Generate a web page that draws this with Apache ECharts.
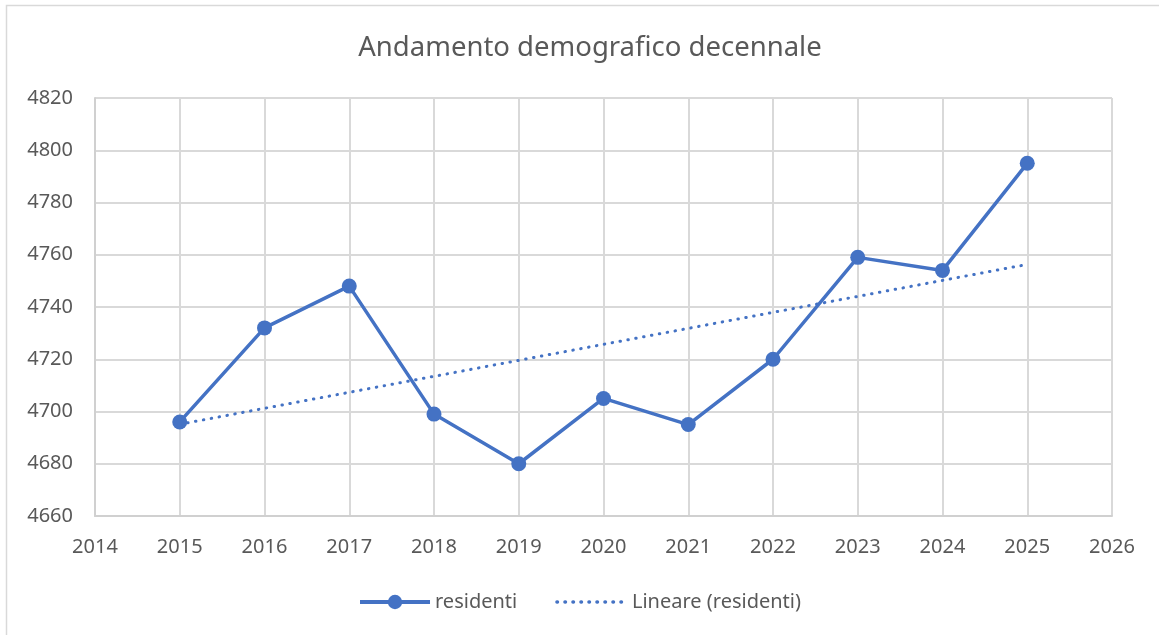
<!DOCTYPE html>
<html>
<head>
<meta charset="utf-8">
<script src="https://cdn.jsdelivr.net/npm/echarts@6/dist/echarts.min.js"></script>
<style>
  html, body { margin: 0; padding: 0; background: #fff; }
  #chart { width: 1159px; height: 635px; }
</style>
</head>
<body>
<div id="chart"></div>
<script>
// dati
var anni = [2015, 2016, 2017, 2018, 2019, 2020, 2021, 2022, 2023, 2024, 2025];
var residenti = [4696, 4732, 4748, 4699, 4680, 4705, 4695, 4720, 4759, 4754, 4795];
// linea di tendenza: estremi
var trendAnni = [2015, 2025];
var trendValori = [4695.1, 4756.3];

var blu = '#4472C4';
var grigioTesto = '#595959';
var font = 'Noto Sans';

var myChart = echarts.init(document.getElementById('chart'));
var option = {
    backgroundColor: '#fff',
    animation: false,
    textStyle: { fontFamily: font },
    title: {
        text: 'Andamento demografico decennale',
        left: 585,
        top: 29,
        textAlign: 'center',
        textStyle: { color: grigioTesto, fontSize: 27.5, fontWeight: 'normal', fontFamily: font }
    },
    graphic: [{
        type: 'rect',
        shape: { x: 6.5, y: 5.5, width: 1200, height: 700 },
        style: { fill: 'none', stroke: '#d9d9d9', lineWidth: 1.5 },
        silent: true
    }],
    legend: {
        bottom: 18,
        left: 'center',
        itemWidth: 70,
        itemHeight: 18,
        itemGap: 38,
        textStyle: { color: grigioTesto, fontSize: 20, fontFamily: font },
        data: [
            { name: 'residenti', lineStyle: { width: 4 } },
            { name: 'Lineare (residenti)', itemStyle: { opacity: 0 }, lineStyle: { width: 3.5 } }
        ]
    },
    grid: { left: 95, right: 47, top: 98, bottom: 119 },
    xAxis: {
        type: 'value',
        min: 2014,
        max: 2026,
        interval: 1,
        axisLine: { show: true, lineStyle: { color: '#d0d0d0', width: 2 } },
        axisTick: { show: false },
        axisLabel: { color: grigioTesto, fontSize: 20, margin: 21, formatter: function (v) { return String(v); } },
        splitLine: { show: true, lineStyle: { color: '#d9d9d9', width: 2 } }
    },
    yAxis: {
        type: 'value',
        min: 4660,
        max: 4820,
        interval: 20,
        axisLine: { show: true, lineStyle: { color: '#d0d0d0', width: 2 } },
        axisTick: { show: false },
        axisLabel: { color: grigioTesto, fontSize: 20, margin: 22, formatter: function (v) { return String(v); } },
        splitLine: { show: true, lineStyle: { color: '#d9d9d9', width: 2 } }
    },
    series: [
        {
            name: 'residenti',
            type: 'line',
            data: anni.map(function (a, i) { return [a, residenti[i]]; }),
            symbol: 'circle',
            symbolSize: 15,
            itemStyle: { color: blu },
            lineStyle: { color: blu, width: 3.5 },
            z: 3
        },
        {
            name: 'Lineare (residenti)',
            type: 'line',
            data: trendAnni.map(function (a, i) { return [a, trendValori[i]]; }),
            symbol: 'none',
            itemStyle: { color: blu },
            lineStyle: { color: blu, width: 3, type: [0.5, 7.5], cap: 'round' },
            z: 2
        }
    ]
};
myChart.setOption(option);
</script>
</body>
</html>
